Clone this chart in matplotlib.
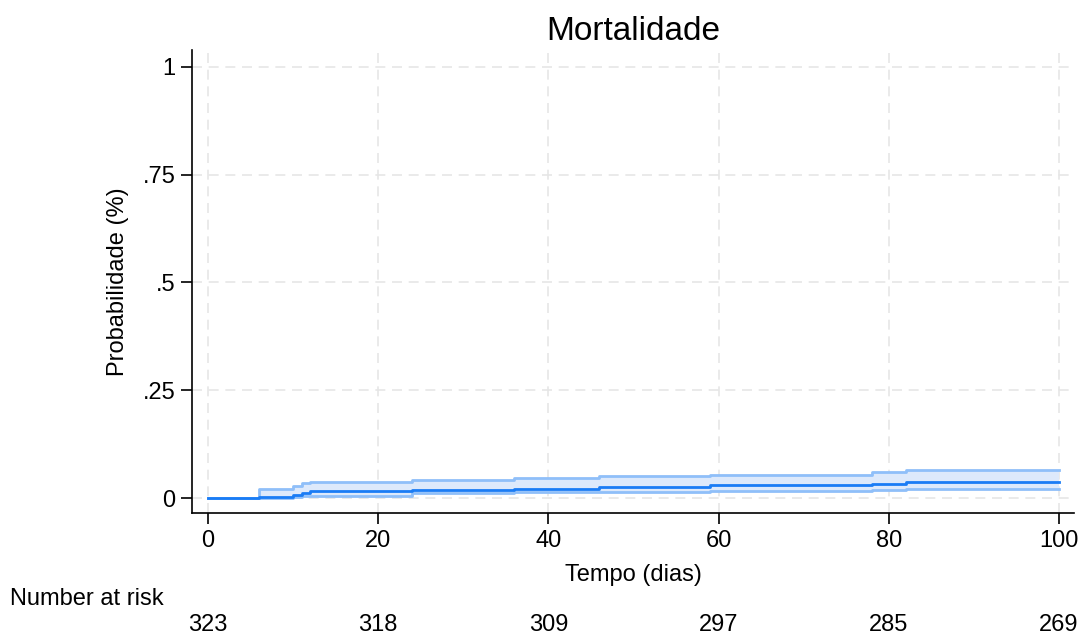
import numpy as np
import matplotlib.pyplot as plt
import matplotlib.transforms as mtransforms

plt.rcParams['font.family'] = ['Liberation Sans', 'DejaVu Sans']

# Curva de Kaplan-Meier (falha acumulada) com IC 95%
tempo = np.array([0, 6, 10, 11, 12, 24, 36, 46, 59, 78, 82, 100])
falha = np.array([0, 0.003, 0.008, 0.011, 0.016, 0.019, 0.0216, 0.026, 0.0294, 0.032, 0.0364, 0.0364])
ic_sup = np.array([0, 0.022, 0.028, 0.034, 0.037, 0.042, 0.0457, 0.051, 0.054, 0.0596, 0.064, 0.064])
ic_inf = np.array([0, 0.0005, 0.002, 0.004, 0.0055, 0.0116, 0.013, 0.0147, 0.016, 0.018, 0.021, 0.021])

# Número em risco
risco_t = [0, 20, 40, 60, 80, 100]
risco_n = [323, 318, 309, 297, 285, 269]

fig = plt.figure(figsize=(10.82, 6.35), dpi=100)
ax = fig.add_axes([0.1774, 0.1921, 0.8152, 0.7292])

ax.fill_between(tempo, ic_inf, ic_sup, step='post', color='#dde9fb', lw=0)
ax.step(tempo, ic_sup, where='post', color='#8fbff9', lw=2)
ax.step(tempo, ic_inf, where='post', color='#8fbff9', lw=2)
ax.step(tempo, falha, where='post', color='#1a7cf5', lw=2)

ax.set_xlim(-1.88, 101.76)
ax.set_ylim(-0.0348, 1.039)
ax.set_xticks([0, 20, 40, 60, 80, 100])
ax.set_yticks([0, 0.25, 0.5, 0.75, 1])
ax.set_yticklabels(['0', '.25', '.5', '.75', '1'])
ax.tick_params(direction='out', length=8, width=1.2, labelsize=17, pad=4)
ax.grid(True, color='#e6e6e6', linestyle=(0, (6, 4)), lw=1.2)
ax.set_axisbelow(True)
for s in ['top', 'right']:
    ax.spines[s].set_visible(False)
for s in ['left', 'bottom']:
    ax.spines[s].set_linewidth(1.2)

ax.set_title('Mortalidade', fontsize=24, pad=7)
ax.set_xlabel('Tempo (dias)', fontsize=17, labelpad=9)
ax.set_ylabel('Probabilidade (%)', fontsize=17, labelpad=10)

trans = mtransforms.blended_transform_factory(ax.transData, fig.transFigure)
fig.text(0.009, 1 - 599 / 635, 'Number at risk', fontsize=17, va='center', ha='left')
for t, n in zip(risco_t, risco_n):
    ax.text(t, 1 - 625 / 635, str(n), transform=trans, fontsize=17, ha='center', va='center')

fig.savefig('out.png', dpi=100)
